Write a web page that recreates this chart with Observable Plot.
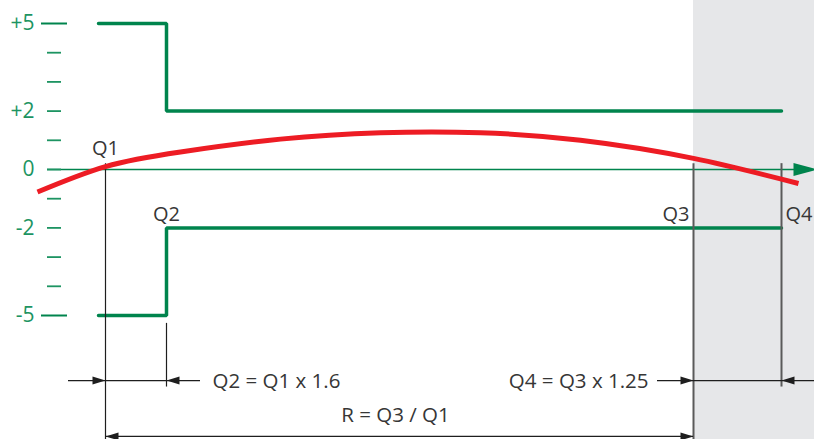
<!DOCTYPE html>
<html>
<head>
<meta charset="utf-8">
<script src="https://cdn.jsdelivr.net/npm/d3@7"></script>
<script src="https://cdn.jsdelivr.net/npm/@observablehq/plot@0.6"></script>
<style>
  html, body { margin: 0; padding: 0; background: #fff; }
  #chart svg { display: block; }
</style>
</head>
<body>
<div id="chart"></div>
<script>
// ---- data ----
const qNames = ["Q1", "Q2", "Q3", "Q4"];
const qPos = [105, 166, 693, 781];            // schematic positions along the flow axis
const tickValues = [-5, -4, -3, -2, -1, 0, 1, 2, 3, 4, 5];
const majorTicks = [5, -5];
const labelValues = [5, 2, 0, -2, -5];
const labelTexts = ["+5", "+2", "0", "-2", "-5"];

const upperStepX = [98, 166, 166, 781];
const upperStepY = [5, 5, 2, 2];
const lowerStepX = [98, 166, 166, 781];
const lowerStepY = [-5, -5, -2, -2];

const curveX = [37, 105, 180, 280, 380, 480, 580, 693, 798];
const curveY = [-0.77, 0.10, 0.60, 1.04, 1.26, 1.26, 1.0, 0.38, -0.48];

const dimLevels = [-7.23, -9.14];             // upper and lower dimension rows
const dimTexts = ["Q2 = Q1 x 1.6", "Q4 = Q3 x 1.25", "R = Q3 / Q1"];

// ---- styles ----
const green = "#00844d";
const tickGreen = "#1d9462";
const red = "#ed1c24";
const ink = "#363636";
const font = "'Open Sans', sans-serif";

function arrowHead(L, W, dir) {
  return {
    draw(ctx) {
      const s = dir === "left" ? -1 : 1;
      ctx.moveTo(0, 0);
      ctx.lineTo(-s * L, -W);
      ctx.lineTo(-s * L, W);
      ctx.closePath();
    }
  };
}

const upperStep = upperStepX.map((x, i) => ({x, y: upperStepY[i]}));
const lowerStep = lowerStepX.map((x, i) => ({x, y: lowerStepY[i]}));
const curve = curveX.map((x, i) => ({x, y: curveY[i]}));
const [Q1, Q2, Q3, Q4] = qPos;

const chart = Plot.plot({
  width: 814,
  height: 439,
  margin: 0,
  x: {domain: [0, 814], range: [0, 814], axis: null},
  y: {domain: [-5, 5], range: [315, 23], axis: null},
  style: {fontFamily: font, background: "#fff", overflow: "hidden"},
  marks: [
    // shaded region beyond Q3
    Plot.rect([{}], {x1: Q3, x2: 820, y1: -10, y2: 6.5, fill: "#e6e7e9"}),
    // zero axis line
    Plot.ruleY([0], {x1: 47, x2: 795, stroke: green, strokeWidth: 1.5}),
    Plot.dot([{x: 817, y: 0}], {x: "x", y: "y", symbol: arrowHead(24, 6.5, "right"), fill: green, stroke: "none"}),
    // y ticks
    Plot.ruleY(tickValues.filter(v => !majorTicks.includes(v)), {x1: 47, x2: 61, stroke: tickGreen, strokeWidth: 1.8}),
    Plot.ruleY(majorTicks, {x1: 41, x2: 67, stroke: green, strokeWidth: 2}),
    Plot.text(labelValues, {x: 34, y: d => d, text: (d, i) => labelTexts[i], textAnchor: "end", fill: tickGreen, fontSize: 21}),
    // step lines
    Plot.line(upperStep, {x: "x", y: "y", stroke: green, strokeWidth: 3.5, strokeLinejoin: "miter"}),
    Plot.line(lowerStep, {x: "x", y: "y", stroke: green, strokeWidth: 3.5, strokeLinejoin: "miter"}),
    // vertical Q markers
    Plot.ruleX([Q1], {y1: 0.2, y2: -10, stroke: "#1e1e1e", strokeWidth: 1.2}),
    Plot.ruleX([Q2], {y1: -5.27, y2: -7.45, stroke: "#1e1e1e", strokeWidth: 1.2}),
    Plot.ruleX([Q3], {y1: 0.2, y2: -10, stroke: "#5a5a5a", strokeWidth: 2}),
    Plot.ruleX([Q4], {y1: 0.2, y2: -7.45, stroke: "#5a5a5a", strokeWidth: 2}),
    // red curve
    Plot.line(curve, {x: "x", y: "y", stroke: red, strokeWidth: 5, curve: "natural", strokeLinecap: "butt"}),
    // Q labels
    Plot.text([0], {x: Q1, y: 0.72, text: () => qNames[0], textAnchor: "middle", fill: ink, fontSize: 20}),
    Plot.text([0], {x: Q2, y: -1.53, text: () => qNames[1], textAnchor: "middle", fill: ink, fontSize: 20}),
    Plot.text([0], {x: Q3 - 4, y: -1.53, text: () => qNames[2], textAnchor: "end", fill: ink, fontSize: 20}),
    Plot.text([0], {x: Q4 + 4, y: -1.53, text: () => qNames[3], textAnchor: "start", fill: ink, fontSize: 20}),
    // dimension lines
    Plot.ruleY([dimLevels[0]], {x1: 68, x2: 200, stroke: "#1e1e1e", strokeWidth: 1.2}),
    Plot.ruleY([dimLevels[0]], {x1: 657, x2: 814, stroke: "#1e1e1e", strokeWidth: 1.2}),
    Plot.ruleY([dimLevels[1]], {x1: Q1, x2: Q3, stroke: "#1e1e1e", strokeWidth: 1.2}),
    Plot.dot([{x: Q1, y: dimLevels[0]}, {x: Q3, y: dimLevels[0]}, {x: Q3, y: dimLevels[1]}],
      {x: "x", y: "y", symbol: arrowHead(13, 4, "right"), fill: "#1e1e1e", stroke: "none"}),
    Plot.dot([{x: Q2, y: dimLevels[0]}, {x: Q4, y: dimLevels[0]}, {x: Q1, y: dimLevels[1]}],
      {x: "x", y: "y", symbol: arrowHead(13, 4, "left"), fill: "#1e1e1e", stroke: "none"}),
    Plot.text([0], {x: 212, y: dimLevels[0] - 0.03, text: () => dimTexts[0], textAnchor: "start", fill: ink, fontSize: 20.5}),
    Plot.text([0], {x: 648, y: dimLevels[0] - 0.03, text: () => dimTexts[1], textAnchor: "end", fill: ink, fontSize: 20.5}),
    Plot.text([0], {x: 395, y: -8.42, text: () => dimTexts[2], textAnchor: "middle", fill: ink, fontSize: 20.5})
  ]
});
document.getElementById("chart").appendChild(chart);
</script>
</body>
</html>
